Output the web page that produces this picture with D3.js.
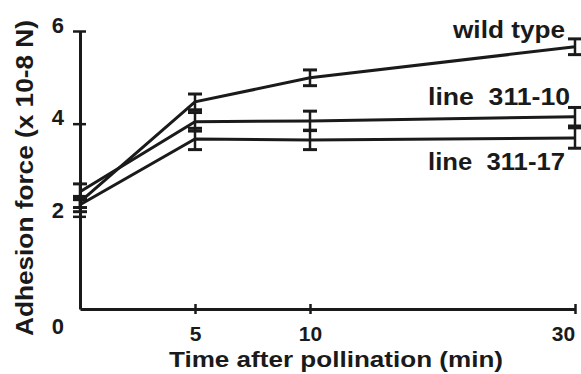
<!DOCTYPE html>
<html>
<head>
<meta charset="utf-8">
<script src="https://cdn.jsdelivr.net/npm/d3@7"></script>
<style>
  body { margin: 0; background: #fff; }
  svg { display: block; }
  text { font-family: "Liberation Sans", Arial, Helvetica, sans-serif; font-weight: bold; fill: #1a1a1a; }
</style>
</head>
<body>
<div id="chart"></div>
<script>
// data
const times = [0, 5, 10, 30];
const xTickValues = [5, 10, 30];
const yTickValues = [0, 2, 4, 6];

const wildType = [2.31, 4.47, 4.99, 5.66];
const wildTypeErr = [0.12, 0.17, 0.17, 0.17];
const line31110 = [2.53, 4.04, 4.06, 4.15];
const line31110Err = [0.17, 0.20, 0.21, 0.20];
const line31117 = [2.25, 3.67, 3.65, 3.69];
const line31117Err = [0.15, 0.23, 0.21, 0.22];

const seriesNames = ['wild type', 'line  311-10', 'line  311-17'];

const width = 581;
const height = 374;
const ink = '#1a1a1a';

const svg = d3.select('#chart')
    .append('svg')
    .attr('width', width)
    .attr('height', height);

// the time axis is not linear in the original, so use a piecewise scale
const x = d3.scaleLinear()
    .domain([0, 5, 10, 30])
    .range([80, 195, 310, 575]);

const y = d3.scaleLinear()
    .domain([0, 6])
    .range([309, 31]);

const series = [
    { name: seriesNames[0], values: wildType, err: wildTypeErr, labelDy: -9, labelLen: 112, labelEnd: 565 },
    { name: seriesNames[1], values: line31110, err: line31110Err, labelDy: -12, labelLen: 142, labelEnd: 570 },
    { name: seriesNames[2], values: line31117, err: line31117Err, labelDy: 32, labelLen: 137, labelEnd: 565 },
];

// axes
const yAxis = svg.append('g')
    .attr('transform', `translate(${x(0)},0)`)
    .call(d3.axisLeft(y)
        .tickValues(yTickValues)
        .tickFormat(d3.format('d'))
        .tickSizeInner(7)
        .tickSizeOuter(0)
        .tickPadding(9));

const xAxis = svg.append('g')
    .attr('transform', `translate(0,${y(0)})`)
    .call(d3.axisBottom(x)
        .tickValues(xTickValues)
        .tickFormat(d3.format('d'))
        .tickSizeInner(5)
        .tickSizeOuter(0)
        .tickPadding(27));

[yAxis, xAxis].forEach(ax => {
    ax.select('.domain').attr('stroke', ink).attr('stroke-width', 3);
    ax.selectAll('.tick line').attr('stroke', ink).attr('stroke-width', 2.5);
});

// ticks cross the axis line
yAxis.selectAll('.tick line').attr('x1', 6);
yAxis.selectAll('.tick').filter(d => d === 0).select('line').remove();
xAxis.selectAll('.tick line').attr('y1', -5);

yAxis.selectAll('.tick text')
    .attr('font-size', 22)
    .attr('fill', ink)
    .attr('dy', d => d === 0 ? 24 : 1);

xAxis.selectAll('.tick text')
    .attr('font-size', 21)
    .attr('fill', ink)
    .attr('dy', 0)
    .attr('dx', d => d === 30 ? -12 : 0);

// axis titles
svg.append('text')
    .attr('x', 336)
    .attr('y', 367)
    .attr('text-anchor', 'middle')
    .attr('font-size', 22)
    .attr('textLength', 334)
    .attr('lengthAdjust', 'spacingAndGlyphs')
    .text('Time after pollination (min)');

svg.append('text')
    .attr('transform', 'translate(33,178) rotate(-90)')
    .attr('text-anchor', 'middle')
    .attr('font-size', 24)
    .attr('textLength', 316)
    .attr('lengthAdjust', 'spacingAndGlyphs')
    .text('Adhesion force (x 10-8 N)');

// lines
const line = d3.line()
    .x((d, i) => x(times[i]))
    .y(d => y(d));

const groups = svg.append('g')
    .selectAll('g')
    .data(series)
    .enter()
    .append('g');

groups.append('path')
    .attr('d', d => line(d.values))
    .attr('fill', 'none')
    .attr('stroke', ink)
    .attr('stroke-width', 3);

// error bars
const capHalf = 7;
groups.each(function (s) {
    const g = d3.select(this);
    const bars = s.values.map((v, i) => ({ t: times[i], lo: v - s.err[i], hi: v + s.err[i] }));

    g.selectAll('line.bar')
        .data(bars)
        .enter()
        .append('line')
        .attr('x1', d => x(d.t))
        .attr('x2', d => x(d.t))
        .attr('y1', d => y(d.lo))
        .attr('y2', d => y(d.hi))
        .attr('stroke', ink)
        .attr('stroke-width', 2.5);

    g.selectAll('line.cap')
        .data(bars.flatMap(d => [{ t: d.t, v: d.lo }, { t: d.t, v: d.hi }]))
        .enter()
        .append('line')
        .attr('x1', d => x(d.t) - capHalf)
        .attr('x2', d => x(d.t) + capHalf)
        .attr('y1', d => y(d.v))
        .attr('y2', d => y(d.v))
        .attr('stroke', ink)
        .attr('stroke-width', 3);
});

// series labels next to the last point
groups.append('text')
    .attr('x', d => d.labelEnd)
    .attr('y', d => y(d.values[d.values.length - 1]) + d.labelDy)
    .attr('text-anchor', 'end')
    .attr('font-size', 23)
    .attr('textLength', d => d.labelLen)
    .attr('lengthAdjust', 'spacingAndGlyphs')
    .style('white-space', 'pre')
    .text(d => d.name);
</script>
</body>
</html>
